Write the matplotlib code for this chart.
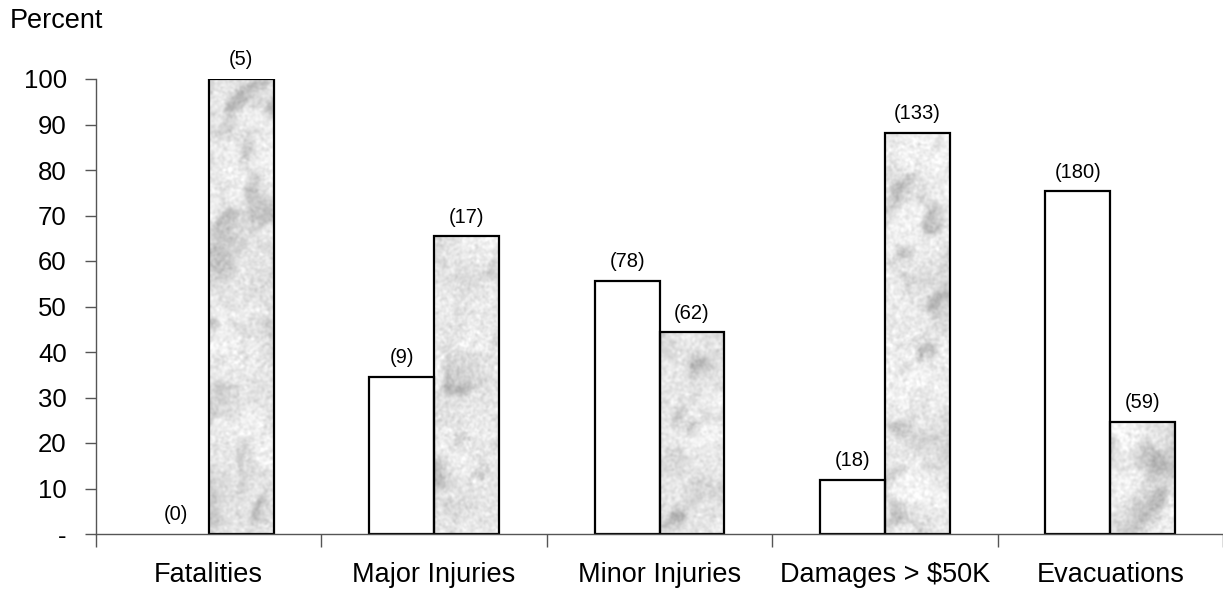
import numpy as np
import matplotlib
matplotlib.use("Agg")
import matplotlib.pyplot as plt

plt.rcParams['font.family'] = ['Liberation Sans', 'DejaVu Sans']

# =========================================
# Data (percent, with counts shown above bars)
# =========================================
categories = ["Fatalities", "Major Injuries", "Minor Injuries", "Damages > $50K", "Evacuations"]
white_pct = [0, 34.6, 55.7, 11.9, 75.3]
marble_pct = [100, 65.4, 44.3, 88.1, 24.7]
white_counts = [0, 9, 78, 18, 180]
marble_counts = [5, 17, 62, 133, 59]
yticks = [0, 10, 20, 30, 40, 50, 60, 70, 80, 90, 100]
ytick_labels = ["-", "10", "20", "30", "40", "50", "60", "70", "80", "90", "100"]

# =========================================
# Marble-ish texture (decorative only)
# =========================================
def lowpass(noise, cutoff):
    h, w = noise.shape
    fy = np.fft.fftfreq(h)[:, None]
    fx = np.fft.fftfreq(w)[None, :]
    r = np.sqrt(fx**2 + fy**2)
    out = np.real(np.fft.ifft2(np.fft.fft2(noise) * np.exp(-(r / cutoff) ** 2)))
    return out / out.std()

def marble_texture(h=460, w=1130, seed=11):
    rng = np.random.default_rng(seed)
    blobs = lowpass(rng.standard_normal((h, w)), 0.01)
    mid = lowpass(rng.standard_normal((h, w)), 0.03)
    fine = lowpass(rng.standard_normal((h, w)), 0.2)
    yy, xx = np.mgrid[0:h, 0:w]
    t = np.sin((xx * 1.0 - yy) * 0.045 + 1.2 * blobs + 0.4 * mid)
    veins = np.exp(-(t / 0.9) ** 2)
    dark = veins * np.clip(0.3 + 0.6 * mid, 0, 1.4)
    img = 0.92 - 0.14 * dark + 0.02 * blobs + 0.025 * fine
    return np.clip(img, 0, 1)

tex = marble_texture()

# =========================================
# Plot
# =========================================
fig = plt.figure(figsize=(12.23, 5.9), dpi=100)
ax = fig.add_axes([96 / 1223, 56 / 590, 1 - 96 / 1223, (534 - 79) / 590])

x = np.arange(len(categories))
width = 65 / 226
xmax = -0.5 + (1223 - 96) / 226

white_lw = [1.6 if v > 0 else 0 for v in white_pct]
ax.bar(x - width / 2, white_pct, width, color='white', edgecolor='black', linewidth=white_lw, zorder=3)
marble_bars = ax.bar(x + width / 2, marble_pct, width, color='none', edgecolor='black', linewidth=1.6, zorder=3)

for b in marble_bars:
    im = ax.imshow(tex, cmap='gray', vmin=0, vmax=1, extent=[-0.5, xmax, 0, 100],
                   aspect='auto', origin='lower', zorder=2, interpolation='bilinear')
    im.set_clip_path(b)

for i in range(len(categories)):
    ax.annotate(f"({white_counts[i]})", (x[i] - width / 2, white_pct[i]), xytext=(0, 7),
                textcoords='offset points', ha='center', va='bottom', fontsize=14.5)
    ax.annotate(f"({marble_counts[i]})", (x[i] + width / 2, marble_pct[i]), xytext=(0, 7),
                textcoords='offset points', ha='center', va='bottom', fontsize=14.5)

ax.set_xlim(-0.5, xmax)
ax.set_ylim(0, 100)

ax.set_yticks(yticks)
ax.set_yticklabels(ytick_labels, fontsize=18.5)
ax.tick_params(axis='y', direction='out', length=8, width=1, color='#555555', pad=13)

ax.set_xticks(np.arange(-0.5, len(categories) - 0.4, 1.0))
ax.set_xticklabels([])
ax.set_xticks(x, minor=True)
ax.set_xticklabels(categories, minor=True, fontsize=19.5)
ax.tick_params(axis='x', which='major', direction='out', length=9, width=1, color='#555555')
ax.tick_params(axis='x', which='minor', length=0, pad=20)

for s in ['top', 'right']:
    ax.spines[s].set_visible(False)
for s in ['left', 'bottom']:
    ax.spines[s].set_color('#555555')
    ax.spines[s].set_linewidth(1)
    ax.spines[s].set_zorder(4)

fig.text(10 / 1223, 1 - 28 / 590, "Percent", fontsize=19.5, ha='left', va='baseline')

fig.savefig("out.png", dpi=100)
